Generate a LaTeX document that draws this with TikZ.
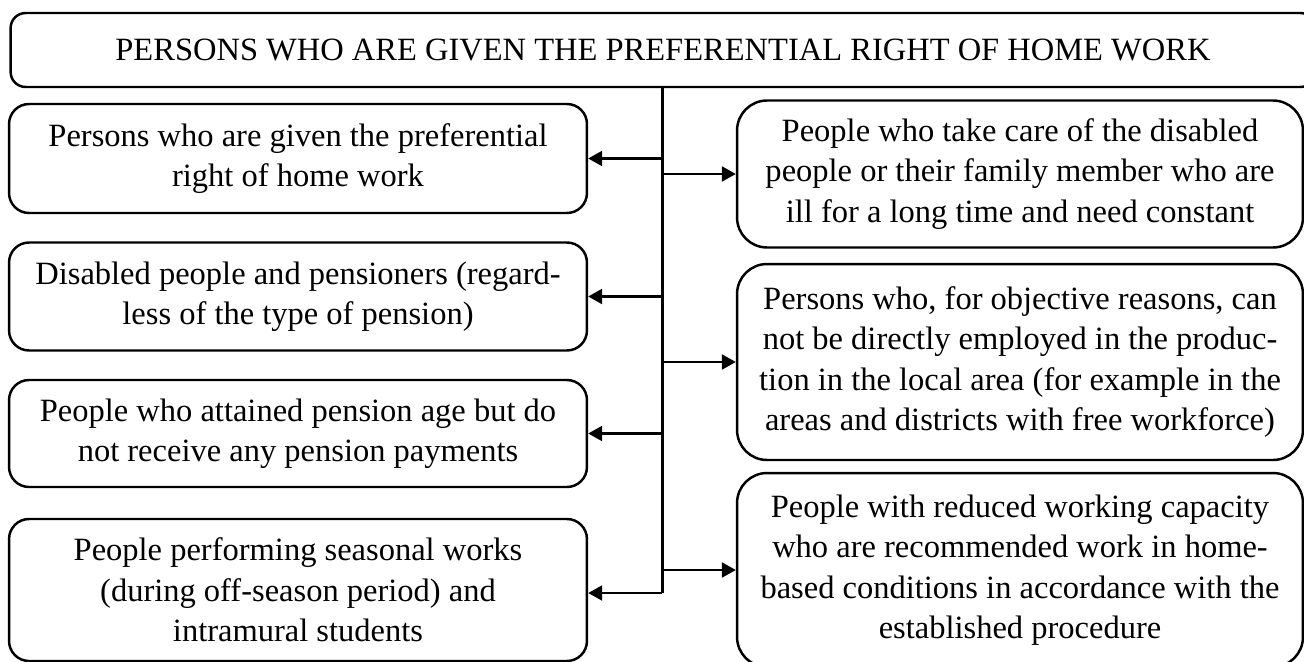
\documentclass[tikz,border=0pt]{standalone}
\usepackage{fontspec}
\setmainfont{Liberation Serif}
\usetikzlibrary{arrows.meta}
\tikzstyle{entry}=[draw, line width=1.4pt, align=center, inner sep=0pt, font=\fontsize{18.5}{23}\selectfont]
\tikzstyle{headbox}=[entry, rounded corners=0.3cm, minimum width=26.1cm, minimum height=1.48cm]
\tikzstyle{lbox}=[entry, rounded corners=0.4cm, minimum width=11.56cm]
\tikzstyle{rbox}=[entry, rounded corners=0.6cm, minimum width=11.32cm]
\tikzstyle{link}=[line width=1.5pt, -{Triangle[length=8pt, width=8.5pt]}]

\begin{document}
\begin{tikzpicture}[x=0.02cm, y=-0.02cm]
        \clip (0, 0) rectangle (1304, 662);
        \node[headbox] (head) at (663, 50) {PERSONS WHO ARE GIVEN THE PREFERENTIAL RIGHT OF HOME WORK};
        % left column
        \node[lbox, minimum height=2.18cm] (L1) at (298, 158.5) {Persons who are given the preferential\\right of home work};
        \node[lbox, minimum height=2.16cm] (L2) at (298, 296.5) {Disabled people and pensioners (regard-\\less of the type of pension)};
        \node[lbox, minimum height=2.14cm] (L3) at (298, 433.5) {People who attained pension age but do\\not receive any pension payments};
        \node[lbox, minimum height=2.84cm] (L4) at (298, 590) {People performing seasonal works\\(during off-season period) and\\intramural students};
        % right column
        \node[rbox, minimum height=2.94cm] (R1) at (1020, 174) {People who take care of the disabled\\people or their family member who are\\ill for a long time and need constant};
        \node[rbox, minimum height=3.92cm] (R2) at (1020, 362) {Persons who, for objective reasons, can\\not be directly employed in the produc-\\tion in the local area (for example in the\\areas and districts with free workforce)};
        \node[rbox, minimum height=3.88cm] (R3) at (1020, 570) {People with reduced working capacity\\who are recommended work in home-\\based conditions in accordance with the\\established procedure};
        % trunk
        \coordinate (top) at (662, 0 |- head.south);
        \coordinate (bot) at (662, 593);
        \draw[line width=1.7pt] (top) -- (bot);
        \foreach \n in {L1, L2, L3}
            \draw[link] (top |- \n.east) -- (\n.east);
        \draw[link] (bot) -- (bot -| L4.east);
        \foreach \n in {R1, R2, R3}
            \draw[link] (top |- \n.west) -- (\n.west);
    \end{tikzpicture}
\end{document}
